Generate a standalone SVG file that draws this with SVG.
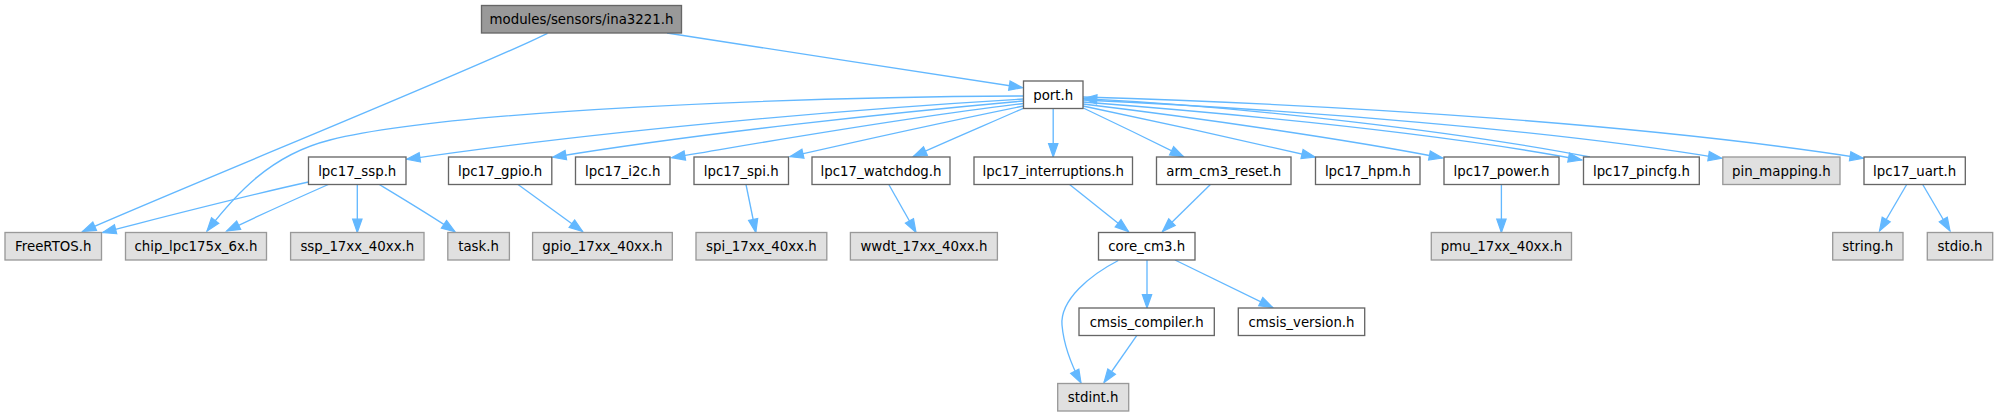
<svg xmlns="http://www.w3.org/2000/svg" width="1998" height="417" viewBox="0 0 1998 417">
<defs>
<style>
rect{stroke-width:1.33}
.n rect{fill:#ffffff;stroke:#666666}
.u rect{fill:#e0e0e0;stroke:#999999}
.r rect{fill:#999999;stroke:#666666}
text{font-family:"DejaVu Sans","Liberation Sans",sans-serif;font-size:13.33px;text-anchor:middle;fill:#000000}
#edges path{fill:none;stroke:#63b8ff;stroke-width:1.33;marker-end:url(#a)}
</style>
<marker id="a" viewBox="0 0 13.3 9.3" refX="13.3" refY="4.65" markerWidth="13.3" markerHeight="9.3" markerUnits="userSpaceOnUse" orient="auto" overflow="visible">
<path d="M0,0 L13.3,4.65 L0,9.3 Z" fill="#63b8ff" stroke="#63b8ff" stroke-width="1.2"/>
</marker>
</defs>
<rect width="1998" height="417" fill="#ffffff"/>
<g id="edges">
<path d="M547.5,33.3 C480,67 200,180 82.5,231.5"/>
<path d="M667,33 C760,48 930,73 1022.5,87.7"/>
<path d="M1023.5,96 C800,97 450,110 330,140 C270,155 235,195 207,231"/>
<path d="M1023.5,99 C870,108 620,128 406.7,159.3"/>
<path d="M1023.5,101 C900,112 700,133 552.7,157.3"/>
<path d="M1023.5,103.5 C900,118 760,143 671.7,157.7"/>
<path d="M1023.5,106 C930,125 850,143 790,156.7"/>
<path d="M1023.3,108.3 C990,123 950,140 913.3,156.5"/>
<path d="M1053.2,108.5 L1053.2,157"/>
<path d="M1083.3,108 C1115,123 1150,140 1183.5,156.7"/>
<path d="M1083,106 C1150,120 1250,142 1315,157"/>
<path d="M1083,104 C1200,118 1350,140 1442.5,158"/>
<path d="M1083,102 C1250,115 1450,135 1581.7,160"/>
<path d="M1590,157 C1460,132 1250,107 1083.5,98.7"/>
<path d="M1083,100 C1300,110 1550,130 1721.7,158.3"/>
<path d="M1083,97 C1350,105 1650,125 1863.3,158.3"/>
<path d="M308.5,182 C240,197 160,218 102.7,232.5"/>
<path d="M328.3,184.5 C300,197 260,215 226.7,231"/>
<path d="M357.3,184.5 L357.3,232.5"/>
<path d="M379.3,184.5 C400,197 430,215 455,231.7"/>
<path d="M518,184.5 L582.6,231.5"/>
<path d="M746,184.5 L755.8,232.5"/>
<path d="M888.8,184.5 L916,232.5"/>
<path d="M1069.6,184.5 L1128.5,231.5"/>
<path d="M1210.4,184.5 L1162.5,231.5"/>
<path d="M1501.4,184.5 L1501.4,232.5"/>
<path d="M1906.7,184.5 L1879.5,231"/>
<path d="M1922.7,184.5 L1950,231"/>
<path d="M1147,260 L1147,308"/>
<path d="M1175,260 L1272.7,307.5"/>
<path d="M1118.3,260.5 C1090,275 1060,300 1062,325 C1064,348 1073,368 1081,383"/>
<path d="M1136.7,335.7 L1104,382.5"/>
</g>
<g id="n_ina3221" class="r"><rect x="481.5" y="5.5" width="200" height="27.5"/><text x="581.5" y="24.05">modules/sensors/ina3221.h</text></g>
<g id="n_port" class="n"><rect x="1023.5" y="81" width="59.5" height="27.5"/><text x="1053.25" y="99.55">port.h</text></g>
<g id="n_lpc17_ssp" class="n"><rect x="308.5" y="157" width="97.5" height="27.5"/><text x="357.25" y="175.55">lpc17_ssp.h</text></g>
<g id="n_lpc17_gpio" class="n"><rect x="448.5" y="157" width="103.3" height="27.5"/><text x="500.15" y="175.55">lpc17_gpio.h</text></g>
<g id="n_lpc17_i2c" class="n"><rect x="575.5" y="157" width="94.5" height="27.5"/><text x="622.75" y="175.55">lpc17_i2c.h</text></g>
<g id="n_lpc17_spi" class="n"><rect x="694" y="157" width="94.5" height="27.5"/><text x="741.25" y="175.55">lpc17_spi.h</text></g>
<g id="n_lpc17_watchdog" class="n"><rect x="812" y="157" width="138" height="27.5"/><text x="881" y="175.55">lpc17_watchdog.h</text></g>
<g id="n_lpc17_interruptions" class="n"><rect x="974" y="157" width="158.5" height="27.5"/><text x="1053.25" y="175.55">lpc17_interruptions.h</text></g>
<g id="n_arm_cm3_reset" class="n"><rect x="1156.5" y="157" width="134.5" height="27.5"/><text x="1223.75" y="175.55">arm_cm3_reset.h</text></g>
<g id="n_lpc17_hpm" class="n"><rect x="1315.5" y="157" width="104.5" height="27.5"/><text x="1367.75" y="175.55">lpc17_hpm.h</text></g>
<g id="n_lpc17_power" class="n"><rect x="1444" y="157" width="115" height="27.5"/><text x="1501.5" y="175.55">lpc17_power.h</text></g>
<g id="n_lpc17_pincfg" class="n"><rect x="1583.5" y="157" width="115.8" height="27.5"/><text x="1641.4" y="175.55">lpc17_pincfg.h</text></g>
<g id="n_pin_mapping" class="u"><rect x="1722.8" y="157" width="117.2" height="27.5"/><text x="1781.4" y="175.55">pin_mapping.h</text></g>
<g id="n_lpc17_uart" class="n"><rect x="1864" y="157" width="101.3" height="27.5"/><text x="1914.65" y="175.55">lpc17_uart.h</text></g>
<g id="n_FreeRTOS" class="u"><rect x="5" y="232.5" width="96.5" height="27.5"/><text x="53.25" y="251.05">FreeRTOS.h</text></g>
<g id="n_chip_lpc175x_6x" class="u"><rect x="125.5" y="232.5" width="141" height="27.5"/><text x="196" y="251.05">chip_lpc175x_6x.h</text></g>
<g id="n_ssp_17xx_40xx" class="u"><rect x="290.6" y="232.5" width="133.4" height="27.5"/><text x="357.3" y="251.05">ssp_17xx_40xx.h</text></g>
<g id="n_task" class="u"><rect x="447.8" y="232.5" width="61.6" height="27.5"/><text x="478.6" y="251.05">task.h</text></g>
<g id="n_gpio_17xx_40xx" class="u"><rect x="532.6" y="232.5" width="139.7" height="27.5"/><text x="602.45" y="251.05">gpio_17xx_40xx.h</text></g>
<g id="n_spi_17xx_40xx" class="u"><rect x="696" y="232.5" width="130.8" height="27.5"/><text x="761.4" y="251.05">spi_17xx_40xx.h</text></g>
<g id="n_wwdt_17xx_40xx" class="u"><rect x="850.4" y="232.5" width="147" height="27.5"/><text x="923.9" y="251.05">wwdt_17xx_40xx.h</text></g>
<g id="n_core_cm3" class="n"><rect x="1098.5" y="232.5" width="96.5" height="27.5"/><text x="1146.75" y="251.05">core_cm3.h</text></g>
<g id="n_pmu_17xx_40xx" class="u"><rect x="1431.3" y="232.5" width="140.2" height="27.5"/><text x="1501.4" y="251.05">pmu_17xx_40xx.h</text></g>
<g id="n_string" class="u"><rect x="1832.7" y="232.5" width="70.3" height="27.5"/><text x="1867.85" y="251.05">string.h</text></g>
<g id="n_stdio" class="u"><rect x="1927.3" y="232.5" width="65.4" height="27.5"/><text x="1960" y="251.05">stdio.h</text></g>
<g id="n_cmsis_compiler" class="n"><rect x="1079" y="308" width="135.3" height="27.5"/><text x="1146.65" y="326.55">cmsis_compiler.h</text></g>
<g id="n_cmsis_version" class="n"><rect x="1238.3" y="308" width="126.4" height="27.5"/><text x="1301.5" y="326.55">cmsis_version.h</text></g>
<g id="n_stdint" class="u"><rect x="1057.7" y="383.5" width="71" height="27.5"/><text x="1093.2" y="402.05">stdint.h</text></g>
</svg>
